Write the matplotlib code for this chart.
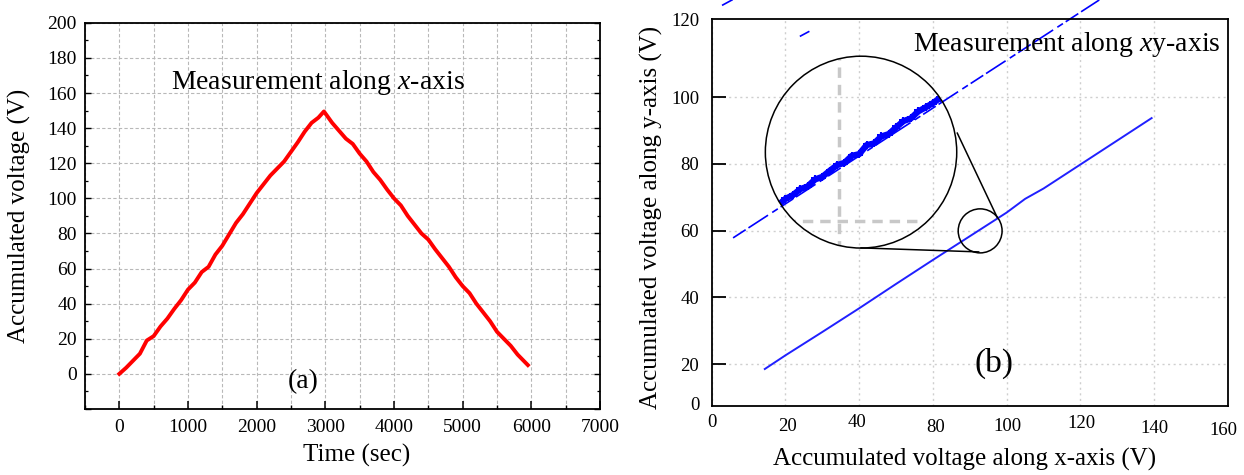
import matplotlib
matplotlib.use("Agg")
import matplotlib.pyplot as plt
from matplotlib.patches import Ellipse
from matplotlib.ticker import MultipleLocator
from matplotlib.transforms import blended_transform_factory, ScaledTranslation

plt.rcParams['font.family'] = ['Liberation Serif', 'DejaVu Serif']
plt.rcParams['mathtext.fontset'] = 'custom'
plt.rcParams['mathtext.rm'] = 'Liberation Serif'
plt.rcParams['mathtext.it'] = 'Liberation Serif:italic'

# (a) accumulated voltage vs time
time_s = [0, 100, 200, 300, 400, 500, 600, 700, 800, 900, 1000, 1100, 1200, 1300,
          1400, 1500, 1600, 1700, 1800, 1900, 2000, 2100, 2200, 2300, 2400, 2500,
          2600, 2700, 2800, 2900, 2980, 3100, 3200, 3300, 3400, 3500, 3600, 3700,
          3800, 3900, 4000, 4100, 4200, 4300, 4400, 4500, 4600, 4700, 4800, 4900,
          5000, 5100, 5200, 5300, 5400, 5500, 5600, 5700, 5800, 5900, 5950]
volt_x = [0, 3.5, 7.5, 11.5, 19, 21.5, 27, 31.5, 37, 42, 48, 52, 58, 61,
          68, 73, 79.5, 86, 91, 97, 103, 108, 113, 117, 121, 126.5,
          132, 138, 143, 146, 149.5, 143, 138.5, 134, 131, 125.5, 121, 115,
          110.5, 105, 100, 96, 90, 85, 80, 76.5, 71, 66, 61, 55,
          50, 46, 40, 35, 30, 24, 20, 16, 11, 7, 5]

# (b) voltage along y vs along x (in axis grid units)
vx_lower = [14.4, 20, 30, 40, 50, 60, 70, 80, 85, 90, 100, 110, 119.3]
vy_lower = [18.5, 22.6, 29.6, 36.7, 44.0, 51.2, 58.3, 65.4, 69.5, 72.6, 79.8, 87.0, 93.7]

# magnified portion shown in the circle
vx_zoom = [16, 18, 20, 22, 24, 26, 28, 30, 32, 34, 36, 38, 40, 42, 44, 46,
           48, 50, 52, 54, 56, 58, 60, 62, 64]
vy_zoom = [66.6, 67.6, 69.5, 70.6, 72.4, 73.2, 75.3, 76.1, 77.9, 79.6, 80.3, 82.4,
           82.9, 85.6, 86.1, 88.2, 88.9, 90.9, 92.8, 93.6, 95.7, 96.9, 98.2, 99.8, 101]
vx_zoom_ext = [5.8, 105.1]
vy_zoom_ext = [57.8, 129.1]
stray_x = [[3.0, 5.5], [24.1, 26.3]]
stray_y = [[127.6, 129.1], [118.3, 119.6]]

xb_ticks = [0, 20, 40, 60, 80, 100, 120, 140]
xb_labels = ['0', '20', '40', '80', '100', '120', '140', '160']
yb_ticks = [8.3, 20, 40, 60, 80, 100, 123.4]
yb_labels = ['0', '20', '40', '60', '80', '100', '120']

fig = plt.figure(figsize=(12.44, 4.75), dpi=100)

# ---------- panel (a) ----------
ax1 = fig.add_axes([0.0683, 0.139, 0.414, 0.813])
ax1.plot(time_s, volt_x, color='#ff0000', lw=2.8)
ax1.set_xlim(-500, 7000)
ax1.set_ylim(-20, 200)
ax1.set_xticks(range(0, 7001, 1000))
ax1.xaxis.set_minor_locator(MultipleLocator(500))
ax1.set_yticks(range(-20, 201, 20))
ax1.set_yticklabels([''] + [str(v) for v in range(0, 201, 20)])
ax1.yaxis.set_minor_locator(MultipleLocator(10))
ax1.tick_params(axis='x', which='major', direction='in', length=6, width=1.1,
                labelsize=14, pad=7)
ax1.tick_params(axis='x', which='minor', direction='in', length=3, width=1.0)
ax1.tick_params(axis='y', which='major', direction='in', length=4, width=1.0,
                labelsize=14, pad=6, right=True)
ax1.tick_params(axis='y', which='minor', direction='in', length=2.5, width=0.9,
                right=True)
ax1.grid(True, axis='x', which='both', color='#b8b8b8', ls=(0, (3, 2)), lw=0.8)
ax1.grid(True, axis='y', which='major', color='#b8b8b8', ls=(0, (3, 2)), lw=0.8)
ax1.set_axisbelow(True)
for s in ax1.spines.values():
    s.set_linewidth(1.3)
ax1.set_xlabel('Time (sec)', fontsize=18)
ax1.xaxis.set_label_coords(0.528, -0.09)
ax1.set_ylabel('Accumulated voltage (V)', fontsize=18)
ax1.yaxis.set_label_coords(-0.105, 0.5)
ax1.text(0.452, 0.846, 'Measurement along $x$-axis', transform=ax1.transAxes,
         fontsize=20, ha='center', va='center')
ax1.text(0.423, 0.07, '(a)', transform=ax1.transAxes, fontsize=20,
         ha='center', va='center')

# ---------- panel (b) ----------
ax2 = fig.add_axes([0.5721, 0.1453, 0.415, 0.8147])
ax2.set_xlim(0, 140)
ax2.set_ylim(7.42, 123.4)
ax2.plot(vx_lower, vy_lower, color='#2020ff', lw=1.4)

# magnified view
ax2.plot(vx_zoom_ext, vy_zoom_ext, color='#0000ff', lw=1.2,
         dashes=(9, 2, 14, 3, 4, 2), clip_on=False)
for sx, sy in zip(stray_x, stray_y):
    ax2.plot(sx, sy, color='#0000ff', lw=1.2, clip_on=False)

big = Ellipse((40.5, 83.5), 51.9, 57.5, fill=False, ec='black', lw=1.1, zorder=5)
small = Ellipse((72.8, 59.9), 11.9, 13.2, fill=False, ec='black', lw=1.1, zorder=5)
ax2.add_patch(big)
ax2.add_patch(small)
clip_circle = Ellipse((40.5, 83.5), 51.9, 57.5, transform=ax2.transData)
gv, = ax2.plot([34.4, 34.4], [54, 112], color='#c8c8c8', lw=2.5, ls=(0, (3, 2)), zorder=3)
gh, = ax2.plot([20, 55.8], [62.8, 62.8], color='#c8c8c8', lw=2.5, ls=(0, (3, 2)), zorder=3)
thick, = ax2.plot(vx_zoom, vy_zoom, color='#0000ff', lw=4.5, marker='+', ms=6,
                  mew=1.5, zorder=4)
for art in (gv, gh, thick):
    art.set_clip_path(clip_circle)
ax2.plot([40.5, 72.4], [54.8, 53.6], color='black', lw=1.1, zorder=5)
ax2.plot([66.6, 77.4], [89.2, 64.0], color='black', lw=1.1, zorder=5)

ax2.set_xticks(xb_ticks)
ax2.set_xticklabels([])
ax2.tick_params(axis='x', length=0)
ax2.set_yticks(yb_ticks)
ax2.set_yticklabels(yb_labels)
ax2.tick_params(axis='y', direction='in', length=10, width=1.3, labelsize=13.5, pad=9)
yt = ax2.yaxis.get_major_ticks()
yt[0].tick1line.set_visible(False)
yt[-1].tick1line.set_visible(False)
ax2.grid(True, axis='x', color='#cfcfcf', ls=(0, (1.5, 2.5)), lw=1.0)
ax2.set_axisbelow(True)
for yv in [20, 40, 60, 80, 100]:
    ax2.axhline(yv, color='#cfcfcf', ls=(0, (1.5, 2.5)), lw=1.0, zorder=0.5)
for s in ax2.spines.values():
    s.set_linewidth(1.3)

# x tick labels of panel (b) sit at slightly uneven heights
label_dy_px = [17, 21, 17, 22, 21, 18, 23, 25]
label_dx_px = [0, 2, -2, 3, 1, 1, 0, -5]
blend = blended_transform_factory(ax2.transData, ax2.transAxes)
axes_tr = ax2.transAxes
for i, (lbl, dy, dx) in enumerate(zip(xb_labels, label_dy_px, label_dx_px)):
    shift = ScaledTranslation(dx / 100, -dy / 100, fig.dpi_scale_trans)
    if i < len(xb_ticks):
        ax2.text(xb_ticks[i], 0, lbl, transform=blend + shift, fontsize=13.5,
                 ha='center', va='center')
    else:
        ax2.text(1.0, 0, lbl, transform=axes_tr + shift, fontsize=13.5,
                 ha='center', va='center')

ax2.set_xlabel('Accumulated voltage along x-axis (V)', fontsize=18)
ax2.xaxis.set_label_coords(0.49, -0.108)
ax2.set_ylabel('Accumulated voltage along y-axis (V)', fontsize=18)
ax2.yaxis.set_label_coords(-0.094, 0.488)
ax2.text(0.688, 0.935, 'Measurement along $x$y-axis', transform=ax2.transAxes,
         fontsize=20, ha='center', va='center')
ax2.text(0.547, 0.111, '(b)', transform=ax2.transAxes, fontsize=24,
         ha='center', va='center')

fig.savefig('out.png', dpi=100)
